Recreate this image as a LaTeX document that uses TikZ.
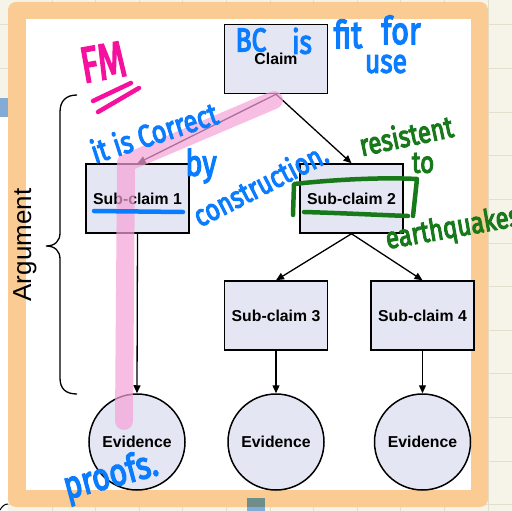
\documentclass[tikz,border=0pt]{standalone}
\usepackage{fontspec}
\setmainfont{Liberation Sans}
\newfontfamily\handfont{Fira Sans}[FakeBold=4]
\usetikzlibrary{arrows.meta}
\definecolor{paper}{HTML}{F6F4E9}
\definecolor{gridline}{HTML}{E3DFCC}
\definecolor{framecol}{HTML}{FBC98C}
\definecolor{boxfill}{HTML}{E4E7F3}
\definecolor{penblue}{HTML}{0A7CFF}
\definecolor{penpink}{HTML}{F5109E}
\definecolor{pengreen}{HTML}{17791A}
\definecolor{marker}{HTML}{F6A2D8}
\definecolor{tabblue}{HTML}{82ABD6}
\definecolor{tabteal}{HTML}{6F8E8A}

\begin{document}
\begin{tikzpicture}[x=1pt,y=-1pt,
  claimbox/.style={draw=black, line width=1.5pt, fill=boxfill,
    minimum width=103pt, minimum height=69pt, inner sep=0pt,
    font=\fontsize{15.8}{18}\selectfont\bfseries},
  evidence/.style={circle, draw=black, line width=1.5pt, fill=boxfill,
    minimum size=96pt, inner sep=0pt,
    font=\fontsize{15.8}{18}\selectfont\bfseries},
  link/.style={line width=1.3pt, -{Triangle[length=8pt,width=7pt]}},
  pen/.style={line width=4.5pt, line cap=round, line join=round},
  hand/.style={inner sep=0pt, font=\handfont\fontsize{#1}{#1}\selectfont},
]
\useasboundingbox (0,0) rectangle (512,511);
\clip (0,0) rectangle (512,511);

% desk background with its grid
\fill[paper] (0,0) rectangle (512,511);
\foreach \gx in {52,95.6,...,520} \draw[gridline, line width=1pt] (\gx,0) -- (\gx,511);
\foreach \gy in {25,68.6,...,520} \draw[gridline, line width=1pt] (0,\gy) -- (512,\gy);
\fill[white] (0,117) rectangle (8,511);
\fill[tabblue] (0,98) rectangle (8,117);

% orange frame and white sheet
\fill[framecol, opacity=0.92, rounded corners=8pt] (8,2) rectangle (488,507);
\fill[white] (26,19) rectangle (471,490);
\fill[tabteal] (247,498) rectangle (265,507);
\fill[tabblue] (247,507) rectangle (265,511);
\draw[line width=1pt] (0,510) .. controls (2,506) and (5,504) .. (8,504);

% argument tree
\node[claimbox] (claim) at (276,59) {Claim};
\node[claimbox] (sc1) at (137.5,198.5) {Sub-claim 1};
\node[claimbox] (sc2) at (351.5,198.5) {Sub-claim 2};
\node[claimbox] (sc3) at (276,315.5) {Sub-claim 3};
\node[claimbox] (sc4) at (422.5,315.5) {Sub-claim 4};
\node[evidence] (ev1) at (137,442) {Evidence};
\node[evidence] (ev2) at (276,442) {Evidence};
\node[evidence] (ev3) at (422.5,442) {Evidence};

\draw[link] (claim.south) -- (sc1.north);
\draw[link] (claim.south) -- (sc2.north);
\draw[link] (sc2.south) -- (sc3.north);
\draw[link] (sc2.south) -- (sc4.north);
\draw[link] (sc1.south) -- (ev1.north);
\draw[link] (sc3.south) -- (ev2.north);
\draw[link] (sc4.south) -- (ev3.north);

% brace and its label
\draw[line width=1.3pt] (77,95) .. controls (66,95) and (60,101) .. (60,112)
  -- (60,233) .. controls (60,241) and (55,246) .. (46,246)
  .. controls (55,246) and (60,251) .. (60,259)
  -- (60,378) .. controls (60,389) and (66,394) .. (77,394);
\node[rotate=90, inner sep=0pt, font=\fontsize{26}{30}\selectfont] (arg) at (25,245) {Argument};

% highlighter stroke
\draw[marker, line width=18pt, line cap=round, line join=round, opacity=0.7]
  (274,100) -- (126,163) -- (124,421);

% handwritten notes
\draw[pen, penblue] (94,211) -- (183,212);
\draw[pen, pengreen] (293,215) -- (294,184) .. controls (330,180) and (380,177) .. (417,179) -- (413,216);
\draw[pen, pengreen] (304,212) .. controls (340,213) and (380,215) .. (408,216);
\draw[pen, penpink] (93,101) -- (131,83);
\draw[pen, penpink] (98,112) -- (139,88);

\node[hand=50, penpink, rotate=10, xscale=0.72] (fm) at (103,62) {FM};
\node[hand=33, penblue, xscale=0.8] (bc) at (251,40) {BC};
\node[hand=33, penblue, xscale=0.8] (is) at (302,41) {is};
\node[hand=38, penblue, xscale=0.8] (fit) at (348,34) {fit};
\node[hand=38, penblue, xscale=0.8] (for) at (401,30) {for};
\node[hand=33, penblue, xscale=0.8] (use) at (386,64) {use};
\node[hand=31, penblue, rotate=18, xscale=0.82] (correct) at (154,132) {it is Correct};
\node[hand=36, penblue, xscale=0.8] (by) at (201,166) {by};
\node[hand=30, penblue, rotate=27, xscale=0.82] (constr) at (260,184) {construction.};
\node[hand=30, pengreen, rotate=12, xscale=0.8] (resist) at (406,135) {resistent};
\node[hand=30, pengreen, xscale=0.8] (to) at (423,163) {to};
\node[hand=30, pengreen, rotate=10, xscale=0.8, anchor=west] (quake) at (386,241) {earthquakes};
\node[hand=38, penblue, rotate=15, xscale=0.8] (proofs) at (111,477) {proofs.};
\end{tikzpicture}
\end{document}
